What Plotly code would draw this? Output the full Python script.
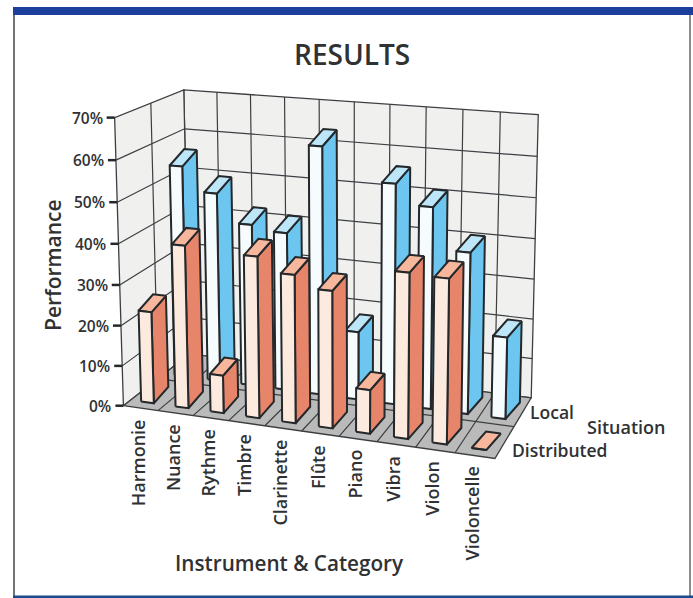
import numpy as np
import plotly.graph_objects as go

categories = ["Harmonie", "Nuance", "Rythme", "Timbre", "Clarinette",
              "Flûte", "Piano", "Vibra", "Violon", "Violoncelle"]
distributed = [22.8, 40, 9.3, 39.2, 35.8, 33, 10.5, 39.2, 38.8, 0]
local = [54, 48, 41, 39.8, 61.8, 17, 54.3, 49.5, 39.5, 20]
value_ticks = [0, 10, 20, 30, 40, 50, 60, 70]
tick_labels = ["0%", "10%", "20%", "30%", "40%", "50%", "60%", "70%"]

W, H = 693, 598
NC, ND, VMAX = len(categories), 2, 70
FONT = "Open Sans"
INK = "#2f3133"
GRID = "#3c3f42"
EDGE = "#24282b"

# Perspective view of the chart box: box corners -> page position
calib = [((0, 0, 0), (123, 403)), ((10, 0, 0), (495, 461)), ((10, 2, 0), (529, 396)),
         ((0, 2, 0), (188, 355)), ((0, 0, 70), (115, 118)), ((10, 2, 70), (538, 113)),
         ((0, 2, 70), (183, 90)), ((5, 2, 70), (355, 103)), ((5, 2, 0), (358, 376))]
A, b = [], []
for (X, Y, Z), (u, v) in calib:
    A.append([X, Y, Z, 1, 0, 0, 0, 0, -u * X, -u * Y, -u * Z]); b.append(u)
    A.append([0, 0, 0, 0, X, Y, Z, 1, -v * X, -v * Y, -v * Z]); b.append(v)
P = np.append(np.linalg.lstsq(np.array(A, float), np.array(b, float), rcond=None)[0], 1).reshape(3, 4)


def proj(x, d, v):
    p = P @ np.array([x, d, v, 1.0])
    return p[0] / p[2], p[1] / p[2]


fig = go.Figure()


def path(xy, fill=None, line=GRID, width=1.2):
    xs = [q[0] for q in xy]
    ys = [q[1] for q in xy]
    if fill:
        xs.append(xs[0]); ys.append(ys[0])
    fig.add_trace(go.Scatter(x=xs, y=ys, mode="lines", fill="toself" if fill else None,
                             fillcolor=fill, line=dict(color=line, width=width),
                             hoverinfo="skip", showlegend=False))


def poly(points, fill=None, line=GRID, width=1.2):
    path([proj(*p) for p in points], fill, line, width)


# walls and floor
poly([(0, 2, 0), (NC, 2, 0), (NC, 2, VMAX), (0, 2, VMAX)], "#f0f0ef", GRID, 1.3)
poly([(0, 0, 0), (0, 2, 0), (0, 2, VMAX), (0, 0, VMAX)], "#f0f0ef", GRID, 1.3)
poly([(0, 0, 0), (NC, 0, 0), (NC, 2, 0), (0, 2, 0)], "#b9bab9", GRID, 1.3)
for v in value_ticks[1:-1]:
    poly([(0, 0, v), (0, 2, v), (NC, 2, v)])
for c in range(1, NC):
    poly([(c, 0, 0), (c, 2, 0), (c, 2, VMAX)])
poly([(0, 1, VMAX), (0, 1, 0), (NC, 1, 0)])

# bars, back row first; the depth of a bar is drawn as a fixed slant on the page
BAR_X = (0.31, 0.68)
BAR_D = 0.2
SLANT = (14.5, -16.5)
rows = [(local, 1, "#f6fbfe", "#bde6f9", "#6cc6ef"),
        (distributed, 0, "#fdeade", "#f6b79c", "#e6856a")]


def back(q):
    return q[0] + SLANT[0], q[1] + SLANT[1]


for values, row, front, top, side in rows:
    d0 = row + BAR_D
    for c, val in enumerate(values):
        x0, x1 = c + BAR_X[0], c + BAR_X[1]
        fl, fr = proj(x0, d0, 0), proj(x1, d0, 0)
        tl, tr = proj(x0, d0, val), proj(x1, d0, val)
        path([fr, back(fr), back(tr), tr], side, EDGE, 2)
        path([tl, tr, back(tr), back(tl)], top, EDGE, 2)
        path([fl, fr, tr, tl], front, EDGE, 2)

annotations = []


def label(x, y, text, size, weight=500, angle=0, xanchor="center", yanchor="middle"):
    annotations.append(dict(x=x, y=y, xref="x", yref="y", text=text, showarrow=False,
                            textangle=angle, xanchor=xanchor, yanchor=yanchor, borderpad=0, borderwidth=0,
                            font=dict(family=FONT, size=size, color=INK, weight=weight)))


# value axis ticks and labels
for v, t in zip(value_ticks, tick_labels):
    tx, ty = proj(0, 0, v)
    fig.add_trace(go.Scatter(x=[tx - 8, tx], y=[ty, ty], mode="lines", line=dict(color=EDGE, width=2.5),
                             hoverinfo="skip", showlegend=False))
    label(tx - 12, ty, t, 15.5, 600, xanchor="right")

# category labels
for c, name in enumerate(categories):
    tx, ty = proj(c + 0.5, 0, 0)
    label(tx - 3, ty + 11, name, 18, 600, angle=-90, yanchor="top")

label(352, 54, "RESULTS", 28, 600)
label(53, 265, "Performance", 21, 600, angle=-90)
label(289, 563, "Instrument &amp; Category", 20.7, 600)
label(552, 412, "Local", 17.5, 600)
label(626, 427, "Situation", 18, 600)
label(560, 450, "Distributed", 17.5, 600)

frame = [
    dict(type="rect", x0=13, x1=693, y0=7, y1=15, fillcolor="#1c3f9c", line_width=0),
    dict(type="rect", x0=13, x1=15, y0=15, y1=596, fillcolor="#6f7378", line_width=0),
    dict(type="rect", x0=689, x1=691, y0=15, y1=596, fillcolor="#8a8e92", line_width=0),
    dict(type="rect", x0=13, x1=693, y0=595.5, y1=598, fillcolor="#1c4a8f", line_width=0),
]

fig.update_layout(
    width=W, height=H, margin=dict(l=0, r=0, t=0, b=0), autosize=False,
    paper_bgcolor="white", plot_bgcolor="white", showlegend=False,
    xaxis=dict(range=[0, W], visible=False, fixedrange=True, domain=[0, 1]),
    yaxis=dict(range=[H, 0], visible=False, fixedrange=True, domain=[0, 1]),
    annotations=annotations, shapes=frame,
)
fig.write_html("out.html", config=dict(displayModeBar=False),
               post_script="document.body.style.margin='0';")
